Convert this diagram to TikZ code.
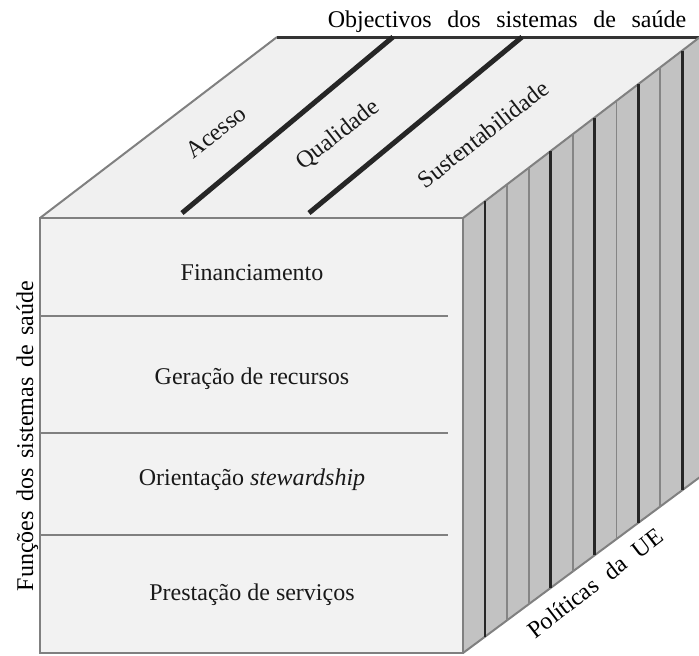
\documentclass[tikz,border=0pt,12pt]{standalone}
\usepackage{fontspec}
\setmainfont{Liberation Serif}
\usetikzlibrary{calc}

\begin{document}
\begin{tikzpicture}[x=0.5pt, y=-0.5pt,
  edge/.style={draw=black!50, line width=1pt},
  divider/.style={black!85, line width=2.5pt},
  dark rule/.style={black!85, line width=1.3pt},
  light rule/.style={black!48, line width=0.9pt},
  cell label/.style={anchor=base, text=black!90},
  top label/.style={rotate=38, text=black!90},
  wide/.style={execute at begin node={\spaceskip=#1\relax}}]
\useasboundingbox (0,0) rectangle (699,655);
\coordinate (ftl) at (40,218);
\coordinate (ftr) at (463,218);
\coordinate (fbr) at (463,653);
\coordinate (btl) at (277,37);
\coordinate (btr) at (700,37);
\coordinate (bbr) at (700,477);

% faces of the cube
\fill[black!6] (ftl) -- (btl) -- (btr) -- (ftr) -- cycle;
\fill[black!24] (ftr) -- (btr) -- (bbr) -- (fbr) -- cycle;
\draw[edge, fill=black!5] (ftl) rectangle (fbr);
\draw[edge] (ftl) -- (btl);
\draw[black!80, line width=1.5pt] (btl) -- (btr);
\draw[edge] (ftr) -- (btr);
\draw[edge] (fbr) -- (bbr);

% policies on the right face
\foreach \k/\kind in {1/dark,2/light,3/light,4/dark,5/light,6/dark,7/light,8/dark,9/light,10/dark}
  \draw[\kind\space rule] ($(ftr)!\k*0.0925!(btr)$) -- ($(fbr)!\k*0.0925!(bbr)$);

% objectives on the top face
\draw[divider] (182,213) -- (393,37);
\draw[divider] (309,213) -- (522,37);
\node[top label] (acesso) at (216,132) {Acesso};
\node[top label] (qualidade) at (338,135) {Qualidade};
\node[top label] (sustent) at (483,134) {Sustentabilidade};

% functions on the front face
\foreach \y in {316,433,535}
  \draw[edge] (40,\y) -- (448,\y);
\node[cell label] (financ) at (252,280) {Financiamento};
\node[cell label] (geracao) at (252,384) {Geração de recursos};
\node[cell label] (orient) at (252,485) {Orientação \textit{stewardship}};
\node[cell label] (prest) at (252,600) {Prestação de serviços};

% axis names
\node[anchor=base, wide=0.65em] (objectivos) at (507,27) {Objectivos dos sistemas de saúde};
\node[anchor=base, rotate=90, wide=0.4em] (funcoes) at (33,436) {Funções dos sistemas de saúde};
\node[rotate=37.5, wide=0.55em] (politicas) at (595,583) {Políticas da UE};
\end{tikzpicture}
\end{document}
